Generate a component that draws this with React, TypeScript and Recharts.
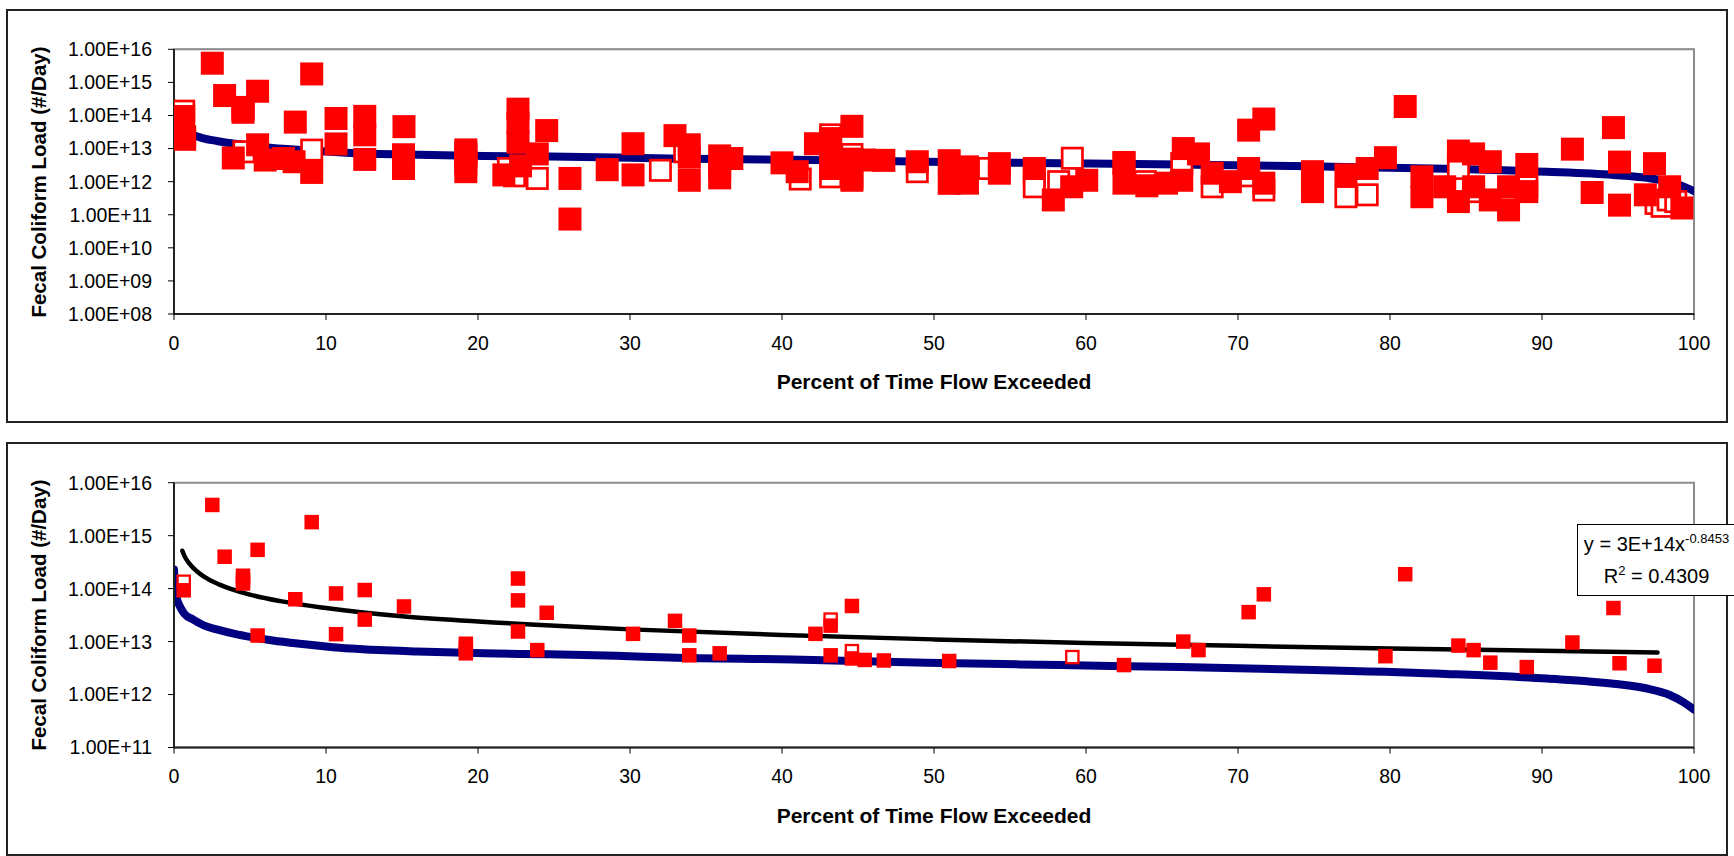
import { CartesianGrid, ComposedChart, Line, ReferenceArea, Scatter, XAxis, YAxis } from "recharts"

const FONT = "'Liberation Sans', Arial, sans-serif"
const RED = "#ff0000"
const NAVY = "#000080"

const xTicks = [0, 10, 20, 30, 40, 50, 60, 70, 80, 90, 100]
const topTicks = [1e8, 1e9, 1e10, 1e11, 1e12, 1e13, 1e14, 1e15, 1e16]
const bottomTicks = [1e11, 1e12, 1e13, 1e14, 1e15, 1e16]

// load duration curve: [percent of time exceeded, load]
const durationCurve = [
  [0, 2.3e14], [0.07, 9.3e13], [0.2, 6.3e13], [0.39, 4.6e13], [0.7, 3.3e13],
  [1.27, 2.6e13], [2.0, 2.0e13], [2.81, 1.7e13], [4.0, 1.4e13], [5.0, 1.23e13],
  [6.5, 1.05e13], [8.29, 9.1e12], [10, 8.1e12], [11.6, 7.4e12], [13.5, 6.9e12],
  [16, 6.5e12], [20.4, 6.0e12], [24.7, 5.75e12], [29.1, 5.4e12], [32.6, 5.0e12],
  [40.7, 4.6e12], [49.5, 4.0e12], [58.3, 3.6e12], [66.2, 3.3e12], [75, 2.9e12],
  [83.7, 2.45e12], [90.3, 2.0e12], [94.7, 1.6e12], [96.9, 1.3e12], [98.4, 9.8e11],
  [99.3, 7.2e11], [100, 5.2e11],
]

// samples above the curve (shown in both charts)
const exceedFilled = [
  [0.64, 9.3e13], [2.52, 3.8e15], [3.33, 4.0e14], [4.54, 1.75e14], [4.54, 1.25e14],
  [5.5, 5.4e14], [5.5, 1.3e13], [7.98, 6.3e13], [9.06, 1.8e15], [10.66, 8.1e13],
  [10.66, 1.38e13], [12.55, 9.4e13], [12.55, 2.6e13], [15.13, 4.6e13], [19.2, 9.1e12],
  [19.2, 6.0e12], [22.63, 1.55e14], [22.63, 6.0e13], [22.63, 1.55e13], [23.9, 6.9e12],
  [24.52, 3.5e13], [30.2, 1.4e13], [32.96, 2.46e13], [33.9, 1.3e13], [33.9, 5.5e12],
  [35.9, 6.0e12], [42.2, 1.4e13], [43.2, 2.0e13], [43.2, 5.5e12], [44.6, 4.7e13],
  [44.6, 4.8e12], [45.44, 4.5e12], [46.7, 4.4e12], [51.0, 4.3e12], [62.5, 3.6e12],
  [66.4, 1.0e13], [67.4, 6.9e12], [70.7, 3.6e13], [71.7, 7.8e13], [79.7, 5.3e12],
  [81.0, 1.87e14], [84.5, 8.4e12], [85.5, 6.9e12], [86.6, 4.0e12], [89.0, 3.3e12],
  [92.0, 9.6e12], [94.7, 4.3e13], [95.1, 3.9e12], [97.4, 3.5e12],
]
const exceedHollow = [
  [0.64, 1.35e14], [4.54, 1.45e14], [19.2, 7.4e12], [43.2, 2.6e13], [44.6, 6.6e12],
  [59.1, 5.1e12],
]

// remaining samples (top chart only)
const otherFilled = [
  [0.7, 1.9e13], [3.9, 5.2e12], [6.0, 4.5e12], [7.2, 5.0e12], [7.9, 4.0e12],
  [9.06, 1.9e12], [12.55, 4.7e12], [15.1, 6.5e12], [15.1, 2.5e12], [19.2, 2.0e12],
  [21.7, 1.6e12], [22.8, 3.0e12], [26.05, 1.25e12], [26.05, 7.4e10], [28.5, 2.3e12],
  [30.2, 1.6e12], [33.9, 1.1e12], [35.9, 1.3e12], [36.7, 5.0e12], [40.0, 3.7e12],
  [41.0, 2.0e12], [43.2, 2.5e12], [44.6, 1.1e12], [48.9, 4.0e12], [51.0, 8.9e11],
  [52.2, 2.8e12], [52.2, 9.0e11], [54.3, 3.5e12], [54.3, 1.8e12], [56.6, 2.5e12],
  [57.85, 2.8e11], [59.06, 7e11], [60.05, 1.1e12], [62.5, 9e11], [64.0, 7.5e11],
  [65.3, 9e11], [66.3, 1.1e12], [68.3, 1.8e12], [69.5, 1.0e12], [70.7, 2.5e12],
  [71.7, 9e11], [74.9, 2.0e12], [74.9, 5e11], [77.1, 1.6e12], [78.5, 2.5e12],
  [82.1, 1.4e12], [82.1, 3.5e11], [83.6, 7e11], [84.5, 2.5e11], [85.5, 7e11],
  [86.6, 2.8e11], [87.8, 7e11], [87.8, 1.4e11], [89.0, 5e11], [93.3, 4.7e11],
  [95.1, 1.95e11], [96.8, 4e11], [98.4, 7e11], [99.2, 1.6e11],
]
const otherHollow = [
  [0.7, 2.3e13], [4.6, 8e12], [9.06, 9e12], [15.1, 4e12], [19.2, 3.5e12],
  [22.0, 2.5e12], [22.4, 1.5e12], [23.9, 1.25e12], [32.0, 2.2e12], [33.6, 8e12],
  [35.9, 2.5e12], [41.2, 1.2e12], [43.2, 1.4e12], [44.6, 1.3e12], [48.9, 2e12],
  [53.6, 2.5e12], [56.6, 1.5e12], [56.6, 7e11], [58.2, 1e12], [62.5, 3.8e12],
  [63.9, 1e12], [66.3, 3.5e12], [68.3, 7e11], [70.7, 1.5e12], [71.7, 5.6e11],
  [74.9, 1e12], [77.1, 3.5e11], [78.5, 4e11], [84.5, 2.5e12], [85.5, 5e11],
  [89.0, 7e11], [97.5, 2.2e11], [97.9, 1.8e11], [98.3, 2.8e11], [98.8, 2.5e11],
]

// power trendline of the exceedances
const trendLine = [
  [0.55, 5.2e14], [0.7, 4.06e14], [1, 3.0e14], [1.5, 2.13e14], [2, 1.67e14],
  [3, 1.19e14], [5, 7.7e13], [7, 5.8e13], [10, 4.3e13], [15, 3.0e13], [20, 2.4e13],
  [30, 1.7e13], [40, 1.33e13], [50, 1.1e13], [60, 9.4e12], [70, 8.3e12],
  [80, 7.4e12], [90, 6.7e12], [97.6, 6.2e12],
]
const trendEquation = { coef: "3E+14", power: "-0.8453", r2: "0.4309" }

const toPoints = (rows: number[][]) => rows.map(([x, y]) => ({ x, y }))

const sciLabel = (v: number) => {
  const e = Math.round(Math.log10(v))
  return `1.00E+${e < 10 ? "0" + e : e}`
}

const filledSquare = (size: number) => (props: any) => {
  const { cx, cy } = props
  if (cx == null || cy == null) return <g />
  return <rect x={cx - size / 2} y={cy - size / 2} width={size} height={size} fill={RED} />
}

const hollowSquare = (size: number, sw: number) => (props: any) => {
  const { cx, cy } = props
  if (cx == null || cy == null) return <g />
  const s = size - sw
  return <rect x={cx - s / 2} y={cy - s / 2} width={s} height={s} fill="#fff" stroke={RED} strokeWidth={sw} />
}

const tickStyle = { fill: "#000", fontSize: 19.5, fontFamily: FONT }

function LoadChart(props: any) {
  const { top, height, marginTop, marginBottom, yTicks, size, sw, filled, hollow, trend } = props
  return (
    <div style={{ position: "absolute", left: 0, top, width: 1734, height }}>
      <ComposedChart width={1734} height={height} margin={{ top: marginTop, right: 40, bottom: marginBottom, left: 0 }}>
        <ReferenceArea x1={0} x2={100} y1={yTicks[0]} y2={yTicks[yTicks.length - 1]} fill="#fff" fillOpacity={1} stroke="#8c8c8c" strokeWidth={2} />
        <CartesianGrid vertical={false} stroke="#000" strokeOpacity={0.85} />
        <XAxis
          type="number"
          dataKey="x"
          domain={[0, 100]}
          ticks={xTicks}
          allowDataOverflow
          height={30}
          tickSize={6}
          tickMargin={16}
          tick={tickStyle}
          tickLine={{ stroke: "#000" }}
          axisLine={{ stroke: "#222", strokeWidth: 2 }}
        />
        <YAxis
          type="number"
          dataKey="y"
          scale="log"
          domain={[yTicks[0], yTicks[yTicks.length - 1]]}
          ticks={yTicks}
          allowDataOverflow
          width={174}
          tickSize={6}
          tickMargin={16}
          tickFormatter={sciLabel}
          tick={tickStyle}
          tickLine={{ stroke: "#000" }}
          axisLine={{ stroke: "#222", strokeWidth: 2 }}
        />
        <Line
          data={toPoints(durationCurve)}
          dataKey="y"
          type="monotone"
          stroke={NAVY}
          strokeWidth={8}
          strokeLinecap="round"
          dot={false}
          isAnimationActive={false}
        />
        <Scatter data={toPoints(hollow)} dataKey="y" shape={hollowSquare(size, sw)} isAnimationActive={false} />
        <Scatter data={toPoints(filled)} dataKey="y" shape={filledSquare(size)} isAnimationActive={false} />
        {trend && (
          <Line
            data={toPoints(trendLine)}
            dataKey="y"
            type="monotone"
            stroke="#000"
            strokeWidth={4.5}
            strokeLinecap="round"
            dot={false}
            isAnimationActive={false}
          />
        )}
      </ComposedChart>
    </div>
  )
}

const boxStyle = (top: number, height: number): any => ({
  position: "absolute",
  left: 6,
  top,
  width: 1722,
  height,
  border: "2px solid #222",
  boxSizing: "border-box",
})

const xTitle = (top: number): any => ({
  position: "absolute",
  left: 934,
  top,
  transform: "translate(-50%, -50%)",
  fontFamily: FONT,
  fontWeight: "bold",
  fontSize: 21,
  whiteSpace: "nowrap",
  lineHeight: 1,
})

const yTitle = (top: number): any => ({
  position: "absolute",
  left: 39,
  top,
  transform: "translate(-50%, -50%) rotate(-90deg)",
  fontFamily: FONT,
  fontWeight: "bold",
  fontSize: 20.5,
  whiteSpace: "nowrap",
  lineHeight: 1,
})

const supStyle = { fontSize: 13, verticalAlign: "8px", lineHeight: 0 }

export default function App() {
  return (
    <div style={{ position: "absolute", left: 0, top: 0, width: 1734, height: 856, overflow: "hidden", background: "#fff" }}>
      <div style={boxStyle(9, 414)} />
      <div style={boxStyle(442, 414)} />

      <LoadChart
        top={0}
        height={422}
        marginTop={49.3}
        marginBottom={78}
        yTicks={topTicks}
        size={23}
        sw={2.7}
        filled={[...exceedFilled, ...otherFilled]}
        hollow={[...exceedHollow, ...otherHollow]}
        trend={false}
      />
      <LoadChart
        top={440}
        height={416}
        marginTop={42.7}
        marginBottom={78.5}
        yTicks={bottomTicks}
        size={14.5}
        sw={2.3}
        filled={exceedFilled}
        hollow={exceedHollow}
        trend
      />

      <div style={yTitle(181.7)}>Fecal Coliform Load (#/Day)</div>
      <div style={xTitle(381)}>Percent of Time Flow Exceeded</div>
      <div style={yTitle(615)}>Fecal Coliform Load (#/Day)</div>
      <div style={xTitle(815)}>Percent of Time Flow Exceeded</div>

      <div
        style={{
          position: "absolute",
          left: 1577,
          top: 524,
          width: 158,
          height: 72,
          boxSizing: "border-box",
          border: "1.5px solid #000",
          borderRight: "none",
          background: "#fff",
          fontFamily: FONT,
          fontSize: 20,
          lineHeight: "32px",
          paddingTop: 3,
          textAlign: "center",
          whiteSpace: "nowrap",
        }}
      >
        <div>
          y = {trendEquation.coef}x<sup style={supStyle}>{trendEquation.power}</sup>
        </div>
        <div>
          R<sup style={supStyle}>2</sup> = {trendEquation.r2}
        </div>
      </div>
    </div>
  )
}
